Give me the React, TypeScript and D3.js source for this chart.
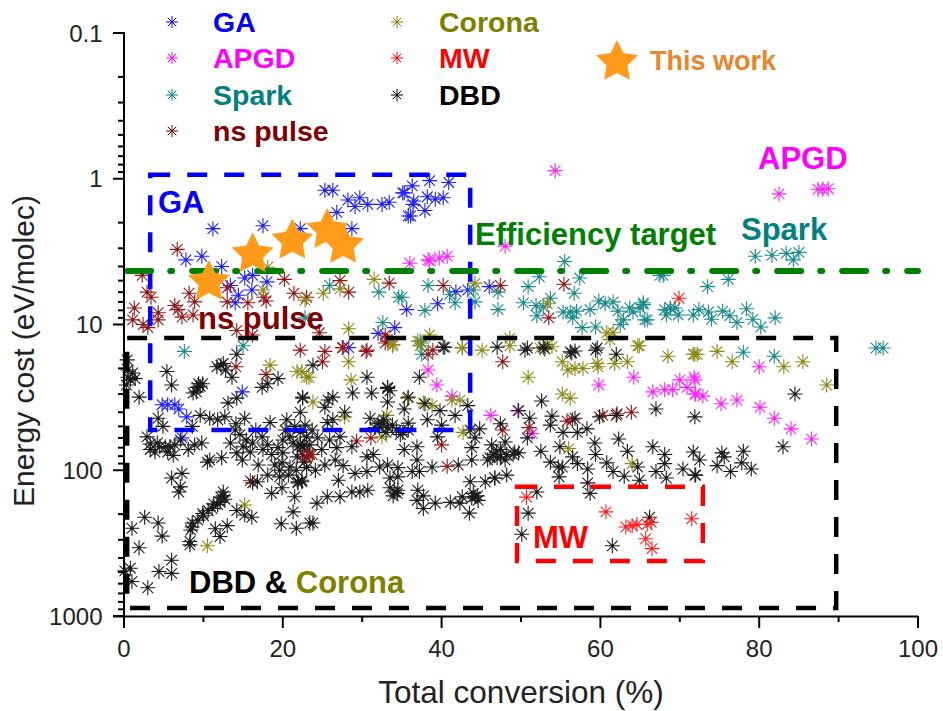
import React from "react";
import * as d3 from "d3";

type P = [number, number];

const gaPoints: P[] = [[11.2,2.2],[7.8,3.6],[9.8,3.4],[12.3,4],[15.2,4.8],[16.2,4.6],[18,5.1],[13.4,5.4],[16.1,5.8],[14.4,6.3],[14,7.1],[17.5,2.1],[22.2,2.2],[25.3,1.2],[26.3,1.2],[28.2,1.4],[29.7,1.35],[29.1,1.55],[26.8,1.7],[28.7,2.2],[30.7,1.5],[32.5,1.5],[33.4,1.45],[35.1,1.25],[35.8,1.8],[35.6,7.9],[32,11.5],[34.1,10.5],[36.3,1.12],[38.5,1.03],[40.9,1.06],[35.3,1.25],[36.5,1.42],[38.2,1.33],[39.2,1.38],[40.2,1.35],[36.4,1.5],[37.9,1.65],[36.1,1.8],[39.5,7.2],[41.8,5.95],[43.3,5.8],[46,5.5],[4.8,35.5],[5.5,35.5],[6.4,35.5],[6.9,38],[7.9,43],[7.3,60],[14.9,29],[28.3,14.4]];

const apgdPoints: P[] = [[54.3,0.88],[48,2.9],[36,3.8],[38.5,3.65],[39.7,3.5],[40.7,3.4],[38.3,3.6],[82.5,1.27],[87.4,1.18],[88,1.18],[88.7,1.17],[38.3,20.5],[39.4,26],[41.3,31],[46.2,42],[49.6,39],[51.4,56],[59.8,26],[64.2,23],[66.6,29],[68.1,28],[69.1,28],[70,24],[70.9,27],[71.8,23],[72,30],[71.9,24],[71.9,30],[72.9,31],[75.2,35],[77.2,33],[80.1,37],[81.9,44],[84,52],[86.6,61],[80,19.5]];

const sparkPoints: P[] = [[25.9,5.4],[32.1,6],[34.6,6.5],[22.8,9],[32.6,9.7],[15,14],[7.6,15.3],[37.5,13.4],[37.5,16],[38.3,5.4],[35,6.5],[37.9,8],[41,6.2],[41.7,7.1],[44,5.8],[44.2,7],[47.1,6],[47.1,7.9],[50.3,7.1],[50.9,5.5],[52.3,4.7],[55.5,3.7],[57.4,4.8],[56.7,6.1],[53.7,6.6],[51.9,7.4],[52.8,7.6],[52,8.7],[55.3,8.2],[56.2,8.2],[57,8.1],[56.5,9],[57.7,10.5],[58.7,7.9],[59.4,10.4],[59.8,6.9],[60.6,7.2],[61.6,7],[62.2,8.1],[62.9,9.3],[62.5,10],[63.7,7.7],[64.1,8.2],[65.4,7.1],[65,7.7],[65.9,9.3],[37.3,13],[65.4,7.3],[65.6,9.3],[67.5,4.6],[67.9,4.6],[73.5,5.5],[76.1,4.9],[68.1,7.9],[68.8,7.7],[68.3,8.6],[69.8,8.6],[69.4,7.7],[71.7,8.6],[72.4,7.9],[73.6,8.2],[74,9.2],[75.4,8.1],[76.3,8.7],[77.2,9.7],[78.4,7.8],[79.2,9.2],[80.2,10.4],[82,9],[79.5,3.4],[81.6,3.35],[83.4,3.25],[84.3,3.6],[85,3.2],[78,15.5],[81.9,16.5],[94.7,14.5],[95.6,14.5]];

const nsPulsePoints: P[] = [[6.7,3.05],[2.3,4.6],[2.9,6],[3.4,6.5],[1.3,7.7],[4.3,8.3],[1.1,9.3],[2.4,10],[4.3,9.3],[3,10.5],[6.4,7.4],[6.8,7.9],[7.3,8.9],[8.7,8.6],[8.2,6.1],[8.9,7],[13,5.6],[13,7],[15.6,7.1],[17.6,6.5],[17.9,6.9],[20.2,4.9],[21.4,6.1],[23,6.5],[27.2,5],[28.3,6],[33.4,5.2],[14.2,11],[16.2,11.8],[24.6,11.4],[30.6,15],[27.6,14.4],[22.2,15],[32.9,11.8],[33.2,13],[14.1,19.5],[17.9,22],[15.9,118],[25.3,15.3],[25,18],[27.5,14.4],[30.5,15.3],[32.9,13.4],[38.3,16],[38.9,15],[29.3,63],[31.1,60],[40,67],[40.7,94],[40.2,5.4],[47.4,5.4],[55.4,5.3],[53.5,9],[47.7,18],[47.7,53],[51,51],[55.8,46],[56.5,45],[60.3,42],[62.1,41],[63.9,40]];

const coronaPoints: P[] = [[18.1,4.05],[31.5,4.9],[27.2,5.7],[25.1,6.1],[22.8,6.8],[17.5,5.8],[28.3,10.7],[33.9,13.7],[18.4,19],[21.8,21],[23,23],[15.2,173],[10.5,330],[23.3,23],[22.4,21],[28.3,18],[28.6,24],[23.8,34],[33.8,14],[37.3,14],[42.6,14.5],[45.1,15],[35.7,32],[37.7,34.5],[38.8,36],[41.3,33],[42.3,33],[27.8,43],[33.1,42],[32.5,59],[42.7,55],[44.2,5.2],[53.3,7.2],[38.5,11.8],[48.6,12.4],[60.8,11.4],[61.6,11.4],[61.2,12.7],[64.7,14],[37,13],[42.6,14.4],[53.3,13.7],[48.6,14],[52.4,14.5],[53.9,14.2],[55.2,18],[55.9,20.5],[56.8,20],[57.8,20],[59.6,18.5],[59.7,19.5],[61.8,18.5],[63.4,18],[64.9,14],[68.5,16.5],[71.7,16],[72.2,16],[50.9,23],[55.2,30],[56.2,32],[56,71],[64,90],[71.9,16],[74.7,15.3],[76.6,18],[83.1,19.5],[85.5,18],[88.5,26]];

const dbdPoints: P[] = [[0.5,20.5],[1.1,21.5],[0.5,23],[1.4,23.5],[1.9,31.5],[5.4,21],[6,26],[8.7,29.5],[9.6,26.5],[9.2,27],[9.9,25.5],[11.7,19.5],[12.5,18.5],[14.2,16],[13.6,23],[17.4,27],[18.1,25.5],[19.4,23.5],[13.1,34.5],[14.2,32],[22.5,32],[4.3,44],[4.9,50],[2.9,59],[3.3,72],[4.2,65],[5.2,69],[5.8,69],[6.2,79],[8.1,72],[9.8,65],[8.9,67],[9.6,42],[10.8,44],[11.8,45],[12.7,43],[8.6,50],[10.5,88],[10.8,85],[12.3,82],[6,113],[7.3,105],[15.2,44],[14,53],[13.4,65],[14.2,76],[14.9,85],[15,69],[16.2,65],[17.5,72],[18.4,47],[20.5,45],[22.2,40],[20,62],[21.3,65],[23,59],[16.9,92],[18.1,108],[19.9,89],[21.9,120],[22.4,117],[19.6,111],[16.8,120],[12.5,141],[7.1,130],[20,76],[21.8,81],[20.9,95],[6.9,141],[1,250],[2.6,210],[4.3,230],[4.8,283],[1.9,340],[6,414],[4.4,495],[6,510],[0.8,470],[1,580],[3,640],[0.1,490],[8.3,325],[8.6,230],[8.6,245],[9.9,198],[10.6,189],[11.1,183],[12.1,166],[12.5,150],[11.5,252],[13,240],[12.1,285],[14.2,189],[15.2,203],[16.1,210],[16.2,122],[18.6,144],[19.9,132],[21.5,152],[21.3,193],[19.8,233],[21.7,250],[21.9,122],[23.4,230],[23.8,19],[30.6,23],[28.8,29.5],[31.2,29.5],[33.2,27.5],[33.2,34],[37.2,23],[40.4,14.3],[35.8,31.5],[35.3,38],[37.9,35],[39.8,39],[43.3,36],[41.7,42],[38.2,45],[22.5,31.5],[25.7,33],[26.3,31.5],[25.3,37],[27.8,40],[26.3,45],[25.6,47],[31,44],[32,47.5],[33.2,51],[32.2,51],[35.1,55],[35.8,47.5],[34.8,57],[40,49],[39.5,59],[43.6,53],[44.8,52],[27.2,59],[23.4,67],[22.5,69],[26.8,70],[28.7,69],[35.3,72],[36.9,69],[36.9,85],[30.6,81],[31.4,78],[27.6,93],[29.1,105],[30.6,102],[32.2,95],[33.2,92],[34.5,96],[33.5,113],[34.5,111],[36.3,102],[37.2,102],[38.8,95],[42.1,92],[43.8,85],[43.8,70],[44.2,60],[46.1,82],[47,82],[23,96],[27,117],[22.4,120],[28.7,141],[29.7,141],[30.7,137],[27.2,152],[25.6,152],[24.3,168],[34.4,144],[34.1,141],[37,137],[37.7,150],[36.9,161],[39.2,168],[37.7,183],[41.1,166],[42.6,152],[42.3,168],[43.6,120],[45.5,120],[46.7,113],[44.2,152],[44.5,150],[43.5,197],[23.8,230],[47,14.3],[50.5,15],[53,14.7],[56.4,15.7],[59.4,15],[62,16],[52.6,33.5],[67,38],[71.9,43],[49.7,39],[51.1,44],[47.4,48],[53.7,49],[53.9,42.5],[56.8,44],[59.9,43],[62,42],[55.3,55],[57.1,55],[58.3,52],[50.8,60],[48,64],[46.3,67],[52.5,74],[54.9,69],[59.3,65],[62.3,61],[66.6,69],[71.7,75],[59.4,78],[63.4,74],[68.1,78],[53.7,88],[54.7,95],[55.2,95],[56.5,81],[57.1,90],[58.4,98],[60.8,89],[61.6,102],[63,110],[64.7,95],[68.1,90],[70.4,98],[67,102],[68.3,113],[71.9,108],[54.8,111],[46.7,113],[48.2,108],[46.5,78],[47.4,81],[48.2,78],[49,78],[49.7,76],[58.4,122],[58.7,144],[64.9,117],[52,141],[50.9,197],[50.1,275],[66.2,210],[61.5,330],[84.5,30],[83,69],[72.5,85],[75.3,76],[75.6,81],[78,74],[77.8,89],[74.7,93],[76.4,102],[79,98],[72,108],[40.2,14.3],[50.8,14.5],[52.8,14.3],[59.6,14.5],
[14.1,48],[14.6,57],[15.4,62],[15.9,75],[16.6,53],[17.4,59],[18.1,67],[18.6,78],[19.4,70],[19,92],[20.3,53],[20.9,59],[21.5,50],[22.2,55],[22.8,49],[19.6,100],[20.7,108],[21.7,100],[22.7,88],[23.4,78],[21.9,69],[22.7,67],[23.7,53],[24.4,60],[24.9,72],[25.9,62],[24.1,100],[25.3,92],[26.6,85],[3.3,66],[3.9,75],[4.5,69],[5.5,75],[6.4,67],[7.1,62],[9.1,29],[9.4,25.5],[0.4,17.5],[0.8,24],[0.3,26],[12.2,19],[12.8,20.5],[9.3,220],[10,205],[11.3,170],[11.8,172],[12.7,158],[12.2,153],[8.4,257],[8.3,308],[31.6,51],[32.5,48],[33,55],[33.8,49],[34.3,53],[35.8,53],[32.7,45],[33.2,27],[33.5,28.5],[22.2,67],[22.5,78],[44,144],[44.6,161],[43.8,155],[33.9,150],[34.5,137],[33.5,132],[46.9,75],[48,85],[49.2,75],[45.8,85],[47.4,72],[56.2,15.4],[56.8,15.2]];

// ns pulse points sitting in the dense black cluster, drawn above it
const nsPulseOverDbd: P[] = [[23,81],[23.2,78],[23.7,78]];

const mwPoints: P[] = [[69.9,6.6],[50.7,153],[60.7,193],[63.2,245],[64,240],[64.6,235],[65.9,235],[66.4,228],[65.7,295],[66.5,345],[71.5,215]];

const thisWorkPoints: P[] = [[10.7,5.1],[16.2,3.3],[21.2,2.66],[25.6,2.25],[27.6,2.85]];

const xTicks = [0, 20, 40, 60, 80, 100];
const xMinor = [10, 30, 50, 70, 90];
const yTicks = [0.1, 1, 10, 100, 1000];
const yTickLabels = ["0.1", "1", "10", "100", "1000"];
const efficiencyTarget = 4.3;
const gaBox = { x0: 3.3, x1: 43.6, y0: 0.94, y1: 53 };
const dbdBox = { x0: 0.4, x1: 89.7, y0: 12.4, y1: 880 };
const mwBox = { x0: 49.5, x1: 72.9, y0: 130, y1: 420 };

const seriesList: { pts: P[]; color: string }[] = [
  { pts: gaPoints, color: "#2020ff" },
  { pts: apgdPoints, color: "#ff20ff" },
  { pts: sparkPoints, color: "#1a8a8a" },
  { pts: nsPulsePoints, color: "#8f1818" },
  { pts: coronaPoints, color: "#8a8a18" },
  { pts: dbdPoints, color: "#1a1a1a" },
  { pts: nsPulseOverDbd, color: "#8f1818" },
  { pts: mwPoints, color: "#ff2020" },
];

const x = d3.scaleLinear().domain([0, 100]).range([124, 918]);
const y = d3.scaleLog().domain([0.1, 1000]).range([33, 616]);

const FONT = "'Liberation Sans', Arial, sans-serif";
const ORANGE = "#ff9a1a";

function asterisk(r: number) {
  const p = d3.path();
  for (let i = 0; i < 4; i++) {
    const a = (i * Math.PI) / 4;
    p.moveTo(-r * Math.cos(a), -r * Math.sin(a));
    p.lineTo(r * Math.cos(a), r * Math.sin(a));
  }
  return p.toString();
}

const starPath = (d3
  .lineRadial<number>()
  .angle((_, i) => (i * Math.PI) / 5)
  .radius((_, i) => (i % 2 === 0 ? 22 : 11))
  .curve(d3.curveLinearClosed)(d3.range(10)) as string);

function Dashed({ b, color, w = 4.5 }: { b: { x0: number; x1: number; y0: number; y1: number }; color: string; w?: number }) {
  return (
    <rect
      x={x(b.x0)}
      y={y(b.y0)}
      width={x(b.x1) - x(b.x0)}
      height={y(b.y1) - y(b.y0)}
      fill="none"
      stroke={color}
      strokeWidth={w}
      strokeDasharray="20 17"
    />
  );
}

function Label({ px, py, size, color, children }: { px: number; py: number; size: number; color: string; children: React.ReactNode }) {
  return (
    <text x={px} y={py} fontFamily={FONT} fontWeight="bold" fontSize={size} fill={color}>
      {children}
    </text>
  );
}

export default function App() {
  const decades = [0.1, 1, 10, 100];
  const minor = decades.flatMap((d) => d3.range(2, 10).map((m) => d * m));
  const legendA = [
    ["GA", "#0000ff"],
    ["APGD", "#ff00ff"],
    ["Spark", "#008080"],
    ["ns pulse", "#800000"],
  ];
  const legendB = [
    ["Corona", "#808000"],
    ["MW", "#ff0000"],
    ["DBD", "#000000"],
  ];
  const legendY = [22, 58, 95, 131];
  return (
    <svg width={943} height={711} style={{ position: "absolute", left: 0, top: 0, background: "#fff" }}>
      {seriesList.map((s, i) => (
        <g key={i} stroke={s.color} strokeWidth={1.1} fill="none">
          {s.pts.map((d, j) => (
            <g key={j} transform={`translate(${x(d[0])},${y(d[1])})`}>
              <path d={asterisk(7.5)} />
              <circle r={1.4} fill={s.color} stroke="none" />
            </g>
          ))}
        </g>
      ))}

      <Dashed b={gaBox} color="#0000ff" />
      <Dashed b={dbdBox} color="#000000" />
      <Dashed b={mwBox} color="#ff0000" />
      <line
        x1={x(0.4)}
        x2={918}
        y1={y(efficiencyTarget)}
        y2={y(efficiencyTarget)}
        stroke="#008000"
        strokeWidth={6}
        strokeLinecap="round"
        strokeDasharray="24 19 2 20"
      />

      {thisWorkPoints.map((d, i) => (
        <path key={i} d={starPath} transform={`translate(${x(d[0])},${y(d[1])})`} fill={ORANGE} />
      ))}

      <g stroke="#000" strokeWidth={2} fill="none">
        <line x1={124} x2={124} y1={32} y2={617} />
        <line x1={113} x2={918} y1={616.5} y2={616.5} />
        {xTicks.map((t) => (
          <line key={t} x1={x(t)} x2={x(t)} y1={616} y2={628} />
        ))}
        {xMinor.map((t) => (
          <line key={t} x1={x(t)} x2={x(t)} y1={616} y2={622} />
        ))}
        {yTicks.map((t) => (
          <line key={t} x1={113} x2={124} y1={y(t)} y2={y(t)} />
        ))}
        {minor.map((t) => (
          <line key={t} x1={118} x2={124} y1={y(t)} y2={y(t)} />
        ))}
      </g>
      <g fontFamily={FONT} fontSize={24} fill="#222">
        {xTicks.map((t) => (
          <text key={t} x={x(t)} y={657} textAnchor="middle">
            {t}
          </text>
        ))}
        {yTicks.map((t, i) => (
          <text key={t} x={102.5} y={y(t) + 8.5} textAnchor="end">
            {yTickLabels[i]}
          </text>
        ))}
      </g>
      <text x={521} y={703} textAnchor="middle" fontFamily={FONT} fontSize={31.5} fill="#222">
        Total conversion (%)
      </text>
      <text
        transform="translate(34,351) rotate(-90)"
        textAnchor="middle"
        fontFamily={FONT}
        fontSize={30}
        fill="#222"
      >
        Energy cost (eV/molec)
      </text>

      {legendA.map(([name, c], i) => (
        <g key={name}>
          <path d={asterisk(6)} transform={`translate(172,${legendY[i]})`} stroke={c} strokeWidth={1} fill="none" />
          <Label px={213} py={legendY[i] + 10} size={28.5} color={c}>
            {name}
          </Label>
        </g>
      ))}
      {legendB.map(([name, c], i) => (
        <g key={name}>
          <path d={asterisk(6)} transform={`translate(397,${legendY[i]})`} stroke={c} strokeWidth={1} fill="none" />
          <Label px={439} py={legendY[i] + 10} size={28.5} color={c}>
            {name}
          </Label>
        </g>
      ))}
      <path d={starPath} transform="translate(617,62)" fill={ORANGE} />
      <Label px={650} py={70} size={27} color="#e8862a">
        This work
      </Label>
      <Label px={158} py={213} size={31} color="#0000ff">
        GA
      </Label>
      <Label px={758} py={169} size={31} color="#ff00ff">
        APGD
      </Label>
      <Label px={741} py={240} size={31} color="#008080">
        Spark
      </Label>
      <Label px={475} py={245} size={31} color="#008000">
        Efficiency target
      </Label>
      <Label px={198} py={329} size={31} color="#800000">
        ns pulse
      </Label>
      <Label px={533} py={548} size={31} color="#ff0000">
        MW
      </Label>
      <Label px={189} py={593} size={31} color="#000000">
        {"DBD & "}
        <tspan fill="#808000">Corona</tspan>
      </Label>
    </svg>
  );
}
